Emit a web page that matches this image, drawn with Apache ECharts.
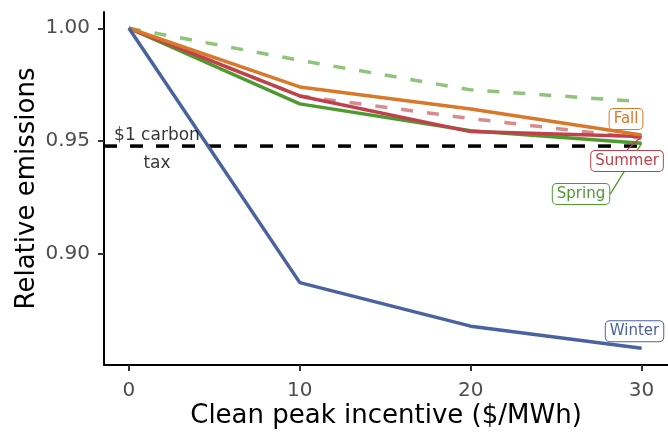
<!DOCTYPE html>
<html>
<head>
<meta charset="utf-8">
<script src="https://cdn.jsdelivr.net/npm/echarts@6/dist/echarts.min.js"></script>
<style>
html,body{margin:0;padding:0;background:#fff;}
#chart{width:668px;height:435px;}
</style>
</head>
<body>
<div id="chart"></div>
<script>
// ---- data ----
const incentive = [0, 10, 20, 30];
const winter = [1.0, 0.8873, 0.8680, 0.8582];
const fall = [1.0, 0.9740, 0.9642, 0.9527];
const summer = [1.0, 0.9700, 0.9542, 0.9520];
const spring = [1.0, 0.9665, 0.9546, 0.9490];
const springDashed = [1.0, 0.9858, 0.9727, 0.9675];
const summerDashed = [1.0, 0.9700, 0.9600, 0.9512];
const taxLevel = 0.9478;
const taxLineX = [-1.46, 30];
const taxLabelX = 1.64;
const taxLabelText = '$1 carbon\ntax';
const xTicks = [0, 10, 20, 30];
const yTicks = [0.90, 0.95, 1.00];
const xRange = [-1.46, 31.55];
const yRange = [0.8508, 1.0072];

const FONT = 'DejaVu Sans';
const col = {
  Winter: '#4a62a0', Fall: '#d8782a', Summer: '#c0414b', Spring: '#4e9a2f',
  springDashed: '#8fc47a', summerDashed: '#d98a8e'
};

function pairs(ys) { return incentive.map((x, i) => [x, ys[i]]); }

function labelled(name, ys, lay, showLine) {
  const d = pairs(ys).map((p, i) => {
    if (i === ys.length - 1) {
      return {
        value: p,
        label: {
          show: true, formatter: name, position: 'inside',
          color: col[name], fontFamily: FONT, fontSize: 15,
          backgroundColor: '#fff', borderColor: col[name], borderWidth: 1,
          borderRadius: 4, padding: [3, 4, 2, 4]
        }
      };
    }
    return { value: p };
  });
  return {
    type: 'line', name: name, data: d,
    symbol: 'circle', symbolSize: 1, showSymbol: true,
    itemStyle: { color: col[name] },
    lineStyle: { color: col[name], width: 3.5 },
    label: { show: false },
    labelLayout: { dx: lay[0], dy: lay[1] },
    labelLine: { show: showLine, lineStyle: { color: col[name], width: 1.3 } },
    z: 3
  };
}

const chart = echarts.init(document.getElementById('chart'), null, { renderer: 'canvas' });
chart.setOption({
  animation: false,
  backgroundColor: '#fff',
  grid: { left: 104, right: 0, top: 12, bottom: 70, containLabel: false },
  xAxis: {
    type: 'value', min: xRange[0], max: xRange[1],
    name: 'Clean peak incentive ($/MWh)', nameLocation: 'middle', nameGap: 38, nameMoveOverlap: false,
    nameTextStyle: { fontFamily: FONT, fontSize: 26, color: '#000' },
    axisLine: { show: true, onZero: false, lineStyle: { color: '#000', width: 2 } },
    axisTick: { show: true, customValues: xTicks, length: 6, lineStyle: { color: '#333', width: 2 } },
    axisLabel: { customValues: xTicks, fontFamily: FONT, fontSize: 20, color: '#4d4d4d', margin: 16 },
    splitLine: { show: false }
  },
  yAxis: {
    type: 'value', min: yRange[0], max: yRange[1],
    name: 'Relative emissions', nameLocation: 'middle', nameGap: 64, nameMoveOverlap: false,
    nameTextStyle: { fontFamily: FONT, fontSize: 26, color: '#000' },
    axisLine: { show: true, onZero: false, lineStyle: { color: '#000', width: 2 } },
    axisTick: { show: true, customValues: yTicks, length: 6, lineStyle: { color: '#333', width: 2 } },
    axisLabel: { customValues: yTicks, formatter: v => v.toFixed(2), fontFamily: FONT, fontSize: 20, color: '#4d4d4d', margin: 14 },
    splitLine: { show: false }
  },
  series: [
    {
      type: 'line', name: 'tax', data: taxLineX.map(x => [x, taxLevel]),
      symbol: 'none', lineStyle: { color: '#000', width: 3.5, type: [13, 13] }, z: 2
    },
    {
      type: 'scatter', name: 'taxLabel', data: [[taxLabelX, taxLevel]], symbolSize: 0,
      label: { show: true, position: 'inside', offset: [0, 4], formatter: taxLabelText, fontFamily: FONT, fontSize: 17, lineHeight: 28, color: '#000' },
      z: 5
    },
    {
      type: 'line', name: 'springDashed', data: pairs(springDashed), symbol: 'none',
      lineStyle: { color: col.springDashed, width: 3.5, type: [12, 14] }, z: 2
    },
    {
      type: 'line', name: 'summerDashed', data: pairs(summerDashed), symbol: 'none',
      lineStyle: { color: col.summerDashed, width: 3.5, type: [12, 14] }, z: 2
    },
    labelled('Spring', spring, [-60.5, 50.7], true),
    labelled('Summer', summer, [-14.5, 24.3], true),
    labelled('Fall', fall, [-15.5, -16], false),
    labelled('Winter', winter, [-7, -17], false)
  ]
});
</script>
</body>
</html>
